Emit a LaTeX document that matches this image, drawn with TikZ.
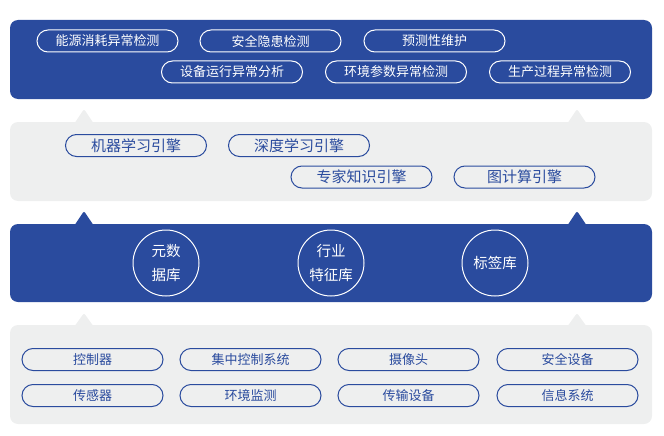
\documentclass[tikz,border=0pt]{standalone}
\usepackage{fontspec}
\setmainfont{Noto Sans CJK SC}
\usepackage{tikz}
\usetikzlibrary{positioning,shapes.misc}
\definecolor{dtblue}{RGB}{42,75,158}
\definecolor{dtgray}{RGB}{238,239,239}
\tikzstyle{blueband} = [rectangle, rounded corners=8pt, fill=dtblue, minimum width=642pt, inner sep=0pt]
\tikzstyle{grayband} = [rectangle, rounded corners=8pt, fill=dtgray, minimum width=642pt, inner sep=0pt]
\tikzstyle{whitepill} = [rounded rectangle, draw=white, line width=1pt, text=white, minimum width=141pt, minimum height=22pt, inner sep=0pt, font=\fontsize{13}{15}\selectfont]
\tikzstyle{bluepill} = [rounded rectangle, draw=dtblue, line width=1pt, text=dtblue, minimum width=141pt, minimum height=22pt, inner sep=0pt, font=\fontsize{13}{15}\selectfont]
\tikzstyle{enginepill} = [bluepill, font=\fontsize{15}{17}\selectfont]
\tikzstyle{store} = [circle, draw=white, line width=1pt, text=white, minimum size=66pt, inner sep=0pt, align=center, font=\fontsize{14.5}{24}\selectfont]
\tikzstyle{notch} = [rounded corners=2pt]

\begin{document}
\begin{tikzpicture}[x=1pt, y=-1pt]
\useasboundingbox (0,0) rectangle (664,436);
% Layers
\node (apps) [blueband, minimum height=79pt] at (331,59.5) {};
\node (engines) [grayband, minimum height=79pt] at (331,161.5) {};
\node (stores) [blueband, minimum height=78pt] at (331,263) {};
\node (sources) [grayband, minimum height=99pt] at (331,374.5) {};

% Notches
\fill[dtgray, notch] (74,124) -- (84,109) -- (94,124) -- cycle;
\fill[dtgray, notch] (567,124) -- (577,109) -- (587,124) -- cycle;
\fill[dtblue, notch] (74,226) -- (84,211) -- (94,226) -- cycle;
\fill[dtblue, notch] (567,226) -- (577,211) -- (587,226) -- cycle;
\fill[dtgray, notch] (74,327) -- (84,313) -- (94,327) -- cycle;
\fill[dtgray, notch] (567,327) -- (577,313) -- (587,327) -- cycle;

% Applications
\node (energy) [whitepill] at (107.5,41) {能源消耗异常检测};
\node (hazard) [whitepill, right=21pt of energy] {安全隐患检测};
\node (maint) [whitepill, right=22pt of hazard] {预测性维护};
\node (equip) [whitepill] at (232,72) {设备运行异常分析};
\node (envparam) [whitepill, right=22pt of equip] {环境参数异常检测};
\node (process) [whitepill, right=22pt of envparam] {生产过程异常检测};

% Engines
\node (ml) [enginepill] at (136,145.5) {机器学习引擎};
\node (dl) [enginepill, right=21pt of ml] {深度学习引擎};
\node (expert) [enginepill] at (361.5,177) {专家知识引擎};
\node (graph) [enginepill, right=21pt of expert] {图计算引擎};

% Stores
\node (meta) [store] at (166,263) {元数\\据库};
\node (feature) [store] at (331,263) {行业\\特征库};
\node (tags) [store] at (495,263) {标签库};

% Sources
\node (ctrl) [bluepill] at (92.5,359.5) {控制器};
\node (central) [bluepill, right=16pt of ctrl] {集中控制系统};
\node (camera) [bluepill, right=16pt of central] {摄像头};
\node (safety) [bluepill, right=17pt of camera] {安全设备};
\node (sensor) [bluepill, below=13pt of ctrl] {传感器};
\node (envmon) [bluepill, below=13pt of central] {环境监测};
\node (trans) [bluepill, below=13pt of camera] {传输设备};
\node (info) [bluepill, below=13pt of safety] {信息系统};
\end{tikzpicture}
\end{document}
